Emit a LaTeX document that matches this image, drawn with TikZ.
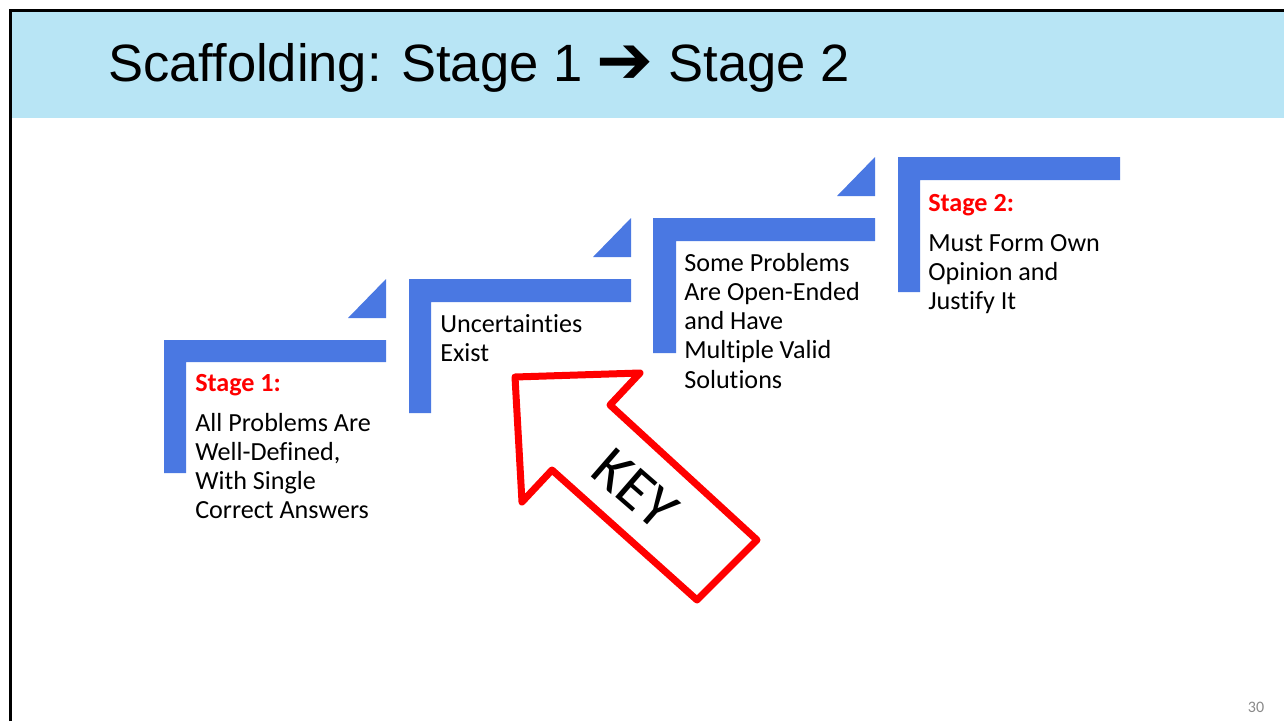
\documentclass[tikz,border=0pt]{standalone}
\usepackage{fontspec}
\setmainfont{Carlito}[Ligatures=NoCommon]
\newfontfamily\titlefont{Liberation Sans}
\newfontfamily\symfont{DejaVu Sans}
\usepackage{xcolor}
\usepackage{tikz}

\definecolor{bandblue}{RGB}{184,229,245}
\definecolor{stairblue}{RGB}{74,120,226}
\definecolor{keyred}{RGB}{255,0,0}
\definecolor{pagegray}{RGB}{137,137,137}

\newcommand{\firstline}{\rule{0pt}{16pt}}

\begin{document}
\begin{tikzpicture}[
  x=0.75pt, y=-0.75pt,
  stair/.style={fill=stairblue},
  stagetext/.style={anchor=north west, inner sep=0pt, align=left,
              font=\fontsize{19.6}{21.9}\selectfont},
  keyarrow/.style={draw=keyred, line width=5.25pt, line join=round},
]
\useasboundingbox (0,0) rectangle (1284,721);

% Bandeau titre
\fill[bandblue] (11,10) rectangle (1284,118);
\draw[line width=2.2pt] (10.5,721) -- (10.5,10.5) -- (1284,10.5);
\node[anchor=base west, inner sep=0pt, font=\titlefont\fontsize{39.4}{48}\selectfont] (title) at (108,81)
  {Scaffolding: Stage 1 \raisebox{-1.5pt}{\symfont\fontsize{51}{51}\selectfont\char"2794} Stage 2};

% Marches
\fill[stair] (164,340) -- (386,340) -- (386,362) -- (186,362) -- (186,473) -- (164,473) -- cycle;
\fill[stair] (386,318) -- (348,318) -- (386,279) -- cycle;
\fill[stair] (409,279) -- (631,279) -- (631,302) -- (431,302) -- (431,413) -- (409,413) -- cycle;
\fill[stair] (631,257) -- (593,257) -- (631,218) -- cycle;
\fill[stair] (653,218) -- (875,218) -- (875,241) -- (676,241) -- (676,353) -- (653,353) -- cycle;
\fill[stair] (875,196) -- (837,196) -- (875,157) -- cycle;
\fill[stair] (898,157) -- (1120,157) -- (1120,180) -- (920,180) -- (920,292) -- (898,292) -- cycle;

% Textes
\node[stagetext] (stageone) at (195,369.7)
  {\firstline{\bfseries\color{keyred}Stage 1:}\\[8pt]All Problems Are\\Well-Defined,\\With Single\\Correct Answers};
\node[stagetext] (uncert) at (440,310.7)
  {\firstline Uncertainties\\Exist};
\node[stagetext] (openend) at (684,249.7)
  {\firstline Some Problems\\Are Open-Ended\\and Have\\Multiple Valid\\Solutions};
\node[stagetext] (stagetwo) at (928,189.7)
  {\firstline{\bfseries\color{keyred}Stage 2:}\\[8pt]Must Form Own\\Opinion and\\Justify It};

% Fleche KEY
\draw[keyarrow] (515,377) -- (640,373) -- (610,405) -- (757,540) -- (697,600)
  -- (552,470) -- (522,502) -- cycle;
\node[rotate=-41, inner sep=0pt, font=\fontsize{45}{50}\selectfont] (key) at (635,489) {KEY};

% Numero de page
\node[inner sep=0pt, text=pagegray, font=\fontsize{12}{14}\selectfont] (page) at (1256,707) {30};

\end{tikzpicture}
\end{document}
